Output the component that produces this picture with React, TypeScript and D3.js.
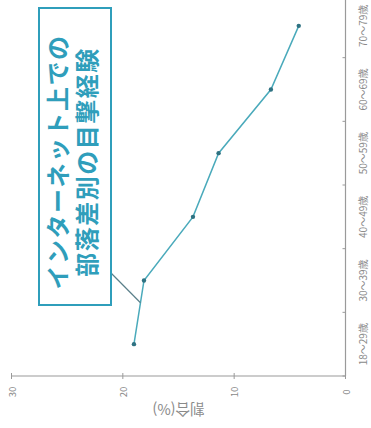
import React from "react";
import * as d3 from "d3";

const categories = ["18～29歳", "30～39歳", "40～49歳", "50～59歳", "60～69歳", "70～79歳"];
const values = [19.0, 18.1, 13.7, 11.4, 6.7, 4.2];
const valueTicks = [0, 10, 20, 30];
const axisTitle = "割合(%)";
const titleLines = ["インターネット上での", "部落差別の目撃経験"];

const W = 428; // unrotated width
const H = 371; // unrotated height
const FONT = "'Noto Sans CJK JP', 'Noto Sans', sans-serif";

export default function App() {
  const x = d3.scaleBand<string>().domain(categories).range([52, 434]).padding(0);
  const y = d3.scaleLinear().domain([0, 30]).range([345.5, 11.5]);
  const cx = (c: string) => (x(c) as number) + x.bandwidth() / 2;

  const line = d3
    .line<number>()
    .x((_, i) => cx(categories[i]))
    .y((d) => y(d));

  const boundaries = categories.map((c) => x(c) as number).concat([(x(categories[5]) as number) + x.bandwidth()]);

  // callout target on first segment
  const t = 0.65;
  const jx = cx(categories[0]) + t * (cx(categories[1]) - cx(categories[0]));
  const jy = y(values[0]) + t * (y(values[1]) - y(values[0]));

  const teal = "#2f9ebb";

  return (
    <div style={{ position: "fixed", left: 0, top: 0 }}>
      <svg width={H} height={W} style={{ display: "block", background: "#fff" }}>
        <g transform={`translate(0,${W}) rotate(-90)`}>
          {/* value axis (vertical in original) */}
          <line x1={52} x2={52} y1={y(30)} y2={y(0)} stroke="#9a9a9a" strokeWidth={1.2} />
          {valueTicks.map((v) => (
            <g key={v}>
              <line x1={49} x2={55} y1={y(v)} y2={y(v)} stroke="#9a9a9a" strokeWidth={1} />
              <text
                x={36}
                y={y(v)}
                textAnchor="middle"
                dominantBaseline="central"
                fontSize={9.5}
                fill="#8a8a8a"
                fontFamily={FONT}
              >
                {v}
              </text>
            </g>
          ))}
          <text
            transform={`translate(18,${y(15)}) rotate(-90)`}
            textAnchor="middle"
            dominantBaseline="central"
            fontSize={14.5}
            fill="#8a8a8a"
            fontFamily={FONT}
          >
            {axisTitle}
          </text>

          {/* category axis (horizontal in original) */}
          <line x1={52} x2={W} y1={y(0)} y2={y(0)} stroke="#9a9a9a" strokeWidth={1.2} />
          {boundaries.map((b, i) => (
            <line key={i} x1={b} x2={b} y1={y(0)} y2={y(0) - 3} stroke="#9a9a9a" strokeWidth={1} />
          ))}
          {categories.map((c) => (
            <text
              key={c}
              x={cx(c)}
              y={362.5}
              textAnchor="middle"
              dominantBaseline="central"
              fontSize={10}
              fill="#8a8a8a"
              fontFamily={FONT}
            >
              {c}
            </text>
          ))}

          {/* data line */}
          <path d={line(values) || ""} fill="none" stroke="#4aaabb" strokeWidth={1.5} />
          {values.map((v, i) => (
            <circle key={i} cx={cx(categories[i])} cy={y(v)} r={2.2} fill="#2f7282" />
          ))}

          {/* callout */}
          <line x1={155} y1={111} x2={jx} y2={jy} stroke="#5a7f8a" strokeWidth={1.2} />
          <rect x={123} y={39} width={297} height={72} fill="#fff" stroke={teal} strokeWidth={2} />
          {titleLines.map((s, i) => (
            <text
              key={i}
              x={266}
              y={56.5 + i * 29}
              textAnchor="middle"
              dominantBaseline="central"
              fontSize={24}
              fontWeight={700}
              letterSpacing={1.5}
              fill={teal}
              fontFamily={FONT}
            >
              {s}
            </text>
          ))}
        </g>
      </svg>
    </div>
  );
}
